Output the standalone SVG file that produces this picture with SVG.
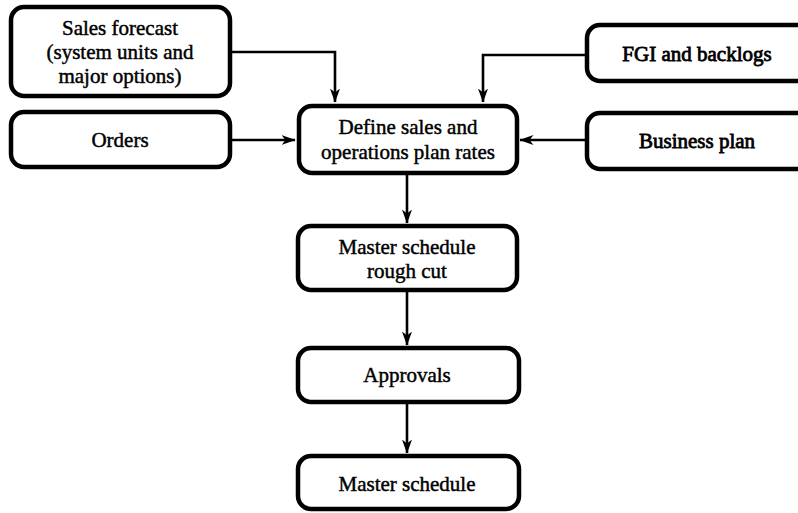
<svg xmlns="http://www.w3.org/2000/svg" width="798" height="513" viewBox="0 0 798 513">
  <style>
    .box { fill: #ffffff; stroke: #000000; stroke-width: 4.5; }
    .lbl { font-size: 21px; fill: #000000; text-anchor: middle; stroke: #000000; stroke-width: 0.45; }
    .heavy { stroke-width: 0.8; }
    .wire { fill: none; stroke: #000000; stroke-width: 2.6; }
  </style>
  <defs>
    <marker id="arrow" viewBox="0 0 14 10" refX="13.5" refY="5" markerWidth="14" markerHeight="10" markerUnits="userSpaceOnUse" orient="auto">
      <path d="M0,0 L14,5 L0,10 L4,5 Z" fill="#000000"/>
    </marker>
  </defs>
  <rect width="798" height="513" fill="#ffffff"/>

  <g id="connectors">
    <path class="wire" d="M232,52 H335 V102" marker-end="url(#arrow)"/>
    <path class="wire" d="M232,140 H295" marker-end="url(#arrow)"/>
    <path class="wire" d="M585,55 H483 V102" marker-end="url(#arrow)"/>
    <path class="wire" d="M585,140 H520" marker-end="url(#arrow)"/>
    <path class="wire" d="M407,175 V223" marker-end="url(#arrow)"/>
    <path class="wire" d="M407,292 V345" marker-end="url(#arrow)"/>
    <path class="wire" d="M407,404 V453" marker-end="url(#arrow)"/>
  </g>

  <g font-family="Liberation Serif, Times New Roman, serif">
    <g id="sales-forecast">
      <rect class="box" x="11" y="7" width="219" height="89" rx="13"/>
      <text class="lbl" x="120" y="35">Sales forecast</text>
      <text class="lbl" x="120" y="59">(system units and</text>
      <text class="lbl" x="120" y="83">major options)</text>
    </g>

    <g id="orders">
      <rect class="box" x="11" y="112" width="219" height="55" rx="13"/>
      <text class="lbl" x="120" y="147">Orders</text>
    </g>

    <g id="define-rates">
      <rect class="box" x="299" y="106" width="218" height="67" rx="13"/>
      <text class="lbl" x="408" y="134">Define sales and</text>
      <text class="lbl" x="408" y="159">operations plan rates</text>
    </g>

    <g id="fgi-backlogs">
      <rect class="box" x="587" y="25" width="225" height="56" rx="13"/>
      <text class="lbl heavy" x="697" y="61">FGI and backlogs</text>
    </g>

    <g id="business-plan">
      <rect class="box" x="587" y="113" width="225" height="56" rx="13"/>
      <text class="lbl heavy" x="697" y="148">Business plan</text>
    </g>

    <g id="rough-cut">
      <rect class="box" x="298" y="226" width="219" height="64" rx="13"/>
      <text class="lbl" x="407" y="254">Master schedule</text>
      <text class="lbl" x="407" y="278">rough cut</text>
    </g>

    <g id="approvals">
      <rect class="box" x="298" y="348" width="221" height="54" rx="13"/>
      <text class="lbl" x="407" y="382">Approvals</text>
    </g>

    <g id="master-schedule">
      <rect class="box" x="298" y="456" width="221" height="53" rx="13"/>
      <text class="lbl" x="407" y="491">Master schedule</text>
    </g>
  </g>
</svg>
